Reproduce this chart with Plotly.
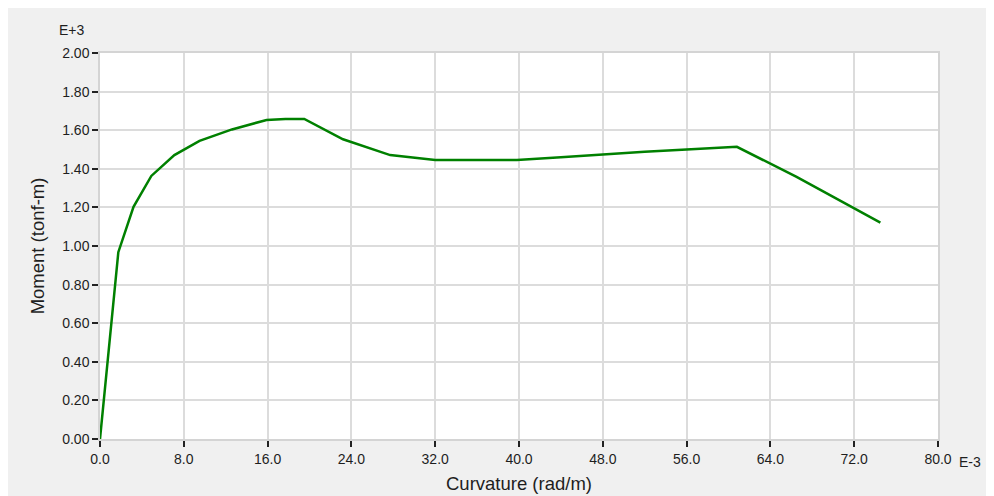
import plotly.graph_objects as go

# Curvature in units of 1e-3 rad/m, Moment in units of 1e+3 tonf-m
curvature = [0, 1.75, 3.2, 4.9, 7.1, 9.5, 12.6, 15.9, 17.7, 19.5, 23.2, 27.7,
             32.0, 39.8, 44.0, 48.0, 52.0, 56.0, 60.8, 66.5, 74.5]
moment = [0, 0.968, 1.203, 1.363, 1.471, 1.545, 1.604, 1.653, 1.658, 1.658, 1.553, 1.471,
          1.446, 1.446, 1.460, 1.475, 1.488, 1.500, 1.514, 1.358, 1.121]

x_ticks = [0, 8, 16, 24, 32, 40, 48, 56, 64, 72, 80]
y_ticks = [0, 0.2, 0.4, 0.6, 0.8, 1.0, 1.2, 1.4, 1.6, 1.8, 2.0]

font_family = "Liberation Sans, Arial, sans-serif"
text_color = "#1e1e1e"

L, T, PW, PH = 92, 45, 838, 386
W, H = 994, 496

fig = go.Figure()
fig.add_trace(go.Scatter(x=curvature, y=moment, mode="lines",
                         line=dict(color="#008000", width=2.5),
                         showlegend=False, hoverinfo="x+y"))

axis_common = dict(
    showgrid=True, gridcolor="#dcdcdc", gridwidth=1.5,
    showline=True, linecolor="#d4d4d4", linewidth=1.5, mirror=True,
    ticks="outside", ticklen=6, tickwidth=1.5, tickcolor="#222222",
    tickfont=dict(family=font_family, size=14, color=text_color),
    zeroline=False,
)

fig.update_layout(
    width=W, height=H,
    margin=dict(l=L, r=W - L - PW, t=T, b=H - T - PH),
    paper_bgcolor="#f0f0f0",
    plot_bgcolor="white",
    font=dict(family=font_family, size=14, color=text_color),
    xaxis=dict(range=[0, 80], tickvals=x_ticks,
               ticktext=[f"{v:.1f}" for v in x_ticks],
               title=dict(text="Curvature (rad/m)", font=dict(size=18.5, color=text_color), standoff=12),
               **axis_common),
    yaxis=dict(range=[0, 2.0], tickvals=y_ticks,
               ticktext=[f"{v:.2f}" for v in y_ticks],
               title=dict(text="Moment (tonf-m)", font=dict(size=18.5, color=text_color), standoff=13),
               **axis_common),
    annotations=[
        dict(text="E+3", xref="paper", yref="paper",
             x=(64 - L) / PW, y=(T + PH - 22) / PH,
             showarrow=False, xanchor="center", yanchor="middle",
             font=dict(size=14, color=text_color)),
        dict(text="E-3", xref="paper", yref="paper",
             x=(949 - L) / PW, y=(T + PH - 454) / PH,
             showarrow=False, xanchor="left", yanchor="middle",
             font=dict(size=14, color=text_color)),
    ],
)

fig.write_html("out.html")
